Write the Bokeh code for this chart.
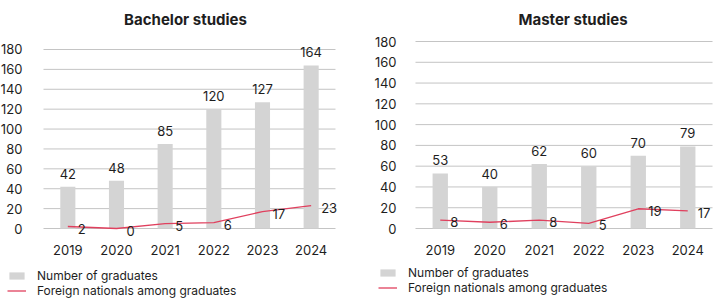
from bokeh.plotting import figure
from bokeh.models import (ColumnDataSource, LabelSet, Label, Legend, LegendItem,
                          Range1d, FixedTicker)
from bokeh.layouts import row
from bokeh.core.properties import value
from bokeh.embed import file_html
from bokeh.resources import INLINE

years = ["2019", "2020", "2021", "2022", "2023", "2024"]
bachelor_graduates = [42, 48, 85, 120, 127, 164]
bachelor_foreign = [2, 0, 5, 6, 17, 23]
master_graduates = [53, 40, 62, 60, 70, 79]
master_foreign = [8, 6, 8, 5, 19, 17]
y_ticks = [0, 20, 40, 60, 80, 100, 120, 140, 160, 180]
series_names = ["Number of graduates", "Foreign nationals among graduates"]

FONT = "Inter"
TXT = "#1e1e1e"
BAR = "#d4d4d4"
LINE = "#e0405e"
GRID = "#c4c4c4"

# slot centres of the categories on a numeric axis (one unit per year)
xpos = [i + 0.5 for i in range(len(years))]


def make_chart(title, grads, foreign, fig_w, x_lo, x_hi, y_lo, y_hi,
               label_standoff, title_dx, title_dy, leg_x, leg_y):
    src = ColumnDataSource(dict(x=xpos, year=years, grads=grads,
                                foreign=foreign,
                                grads_txt=[str(v) for v in grads],
                                foreign_txt=[str(v) for v in foreign]))
    p = figure(x_range=Range1d(x_lo, x_hi), y_range=Range1d(y_lo, y_hi),
               width=fig_w, height=300, output_backend="svg",
               toolbar_location=None, min_border=0,
               outline_line_color=None, background_fill_color=None,
               border_fill_color=None)
    p.xgrid.visible = False
    p.ygrid.visible = False

    # horizontal grid lines, spanning the category slots only
    p.segment(x0=[0] * len(y_ticks), x1=[len(years)] * len(y_ticks),
              y0=y_ticks, y1=y_ticks, line_color=GRID, line_width=1)

    bars = p.vbar(x="x", top="grads", width=0.31, source=src,
                  fill_color=BAR, line_color=None)
    line = p.line(x="x", y="foreign", source=src, line_color=LINE,
                  line_width=1.3)

    p.xaxis.ticker = FixedTicker(ticks=xpos)
    p.xaxis.major_label_overrides = {x: y for x, y in zip(xpos, years)}
    p.xaxis.fixed_location = 0
    p.yaxis.ticker = FixedTicker(ticks=y_ticks)
    p.yaxis.fixed_location = 0
    for ax in (p.xaxis, p.yaxis):
        ax.axis_line_color = None
        ax.major_tick_line_color = None
        ax.minor_tick_line_color = None
        ax.major_label_text_font = FONT
        ax.major_label_text_color = TXT
        ax.major_label_text_font_size = "13px"
    p.yaxis.major_label_standoff = label_standoff
    p.xaxis.major_label_standoff = 10

    p.add_layout(Label(x=len(years) / 2, y=y_ticks[-1], x_offset=title_dx,
                       y_offset=title_dy, text=title, text_align="center",
                       text_baseline="middle", text_font=FONT,
                       text_font_size="15px", text_font_style="bold",
                       text_color=TXT))
    p.add_layout(LabelSet(x="x", y="grads", text="grads_txt", source=src,
                          text_align="center", text_baseline="middle",
                          y_offset=13, text_font=value(FONT),
                          text_font_size=value("13px"), text_color=TXT))
    p.add_layout(LabelSet(x="x", y="foreign", text="foreign_txt",
                          source=src, text_align="left",
                          text_baseline="middle", x_offset=10, y_offset=-2,
                          text_font=value(FONT), text_font_size=value("13px"),
                          text_color=TXT))

    legend = Legend(items=[LegendItem(label=series_names[0], renderers=[bars]),
                           LegendItem(label=series_names[1], renderers=[line])],
                    location=(leg_x, leg_y), orientation="vertical",
                    border_line_color=None, background_fill_color=None,
                    background_fill_alpha=0, padding=0, margin=0, spacing=0,
                    glyph_width=19, glyph_height=9, label_height=15,
                    label_standoff=11, label_text_font=FONT,
                    label_text_font_size="12px", label_text_color=TXT)
    p.add_layout(legend)
    return p


left = make_chart("Bachelor studies", bachelor_graduates, bachelor_foreign,
                  360, -0.8835, 6.514, -72.40, 229.27, 15, -4, 30, 7, 2)
right = make_chart("Master studies", master_graduates, master_foreign,
                   354, -1.111, 6.04, -69.30, 219.47, 13, 9, 22, 18, 5)

layout = row(left, right, spacing=0)
open("out.html", "w").write(file_html(layout, INLINE))
